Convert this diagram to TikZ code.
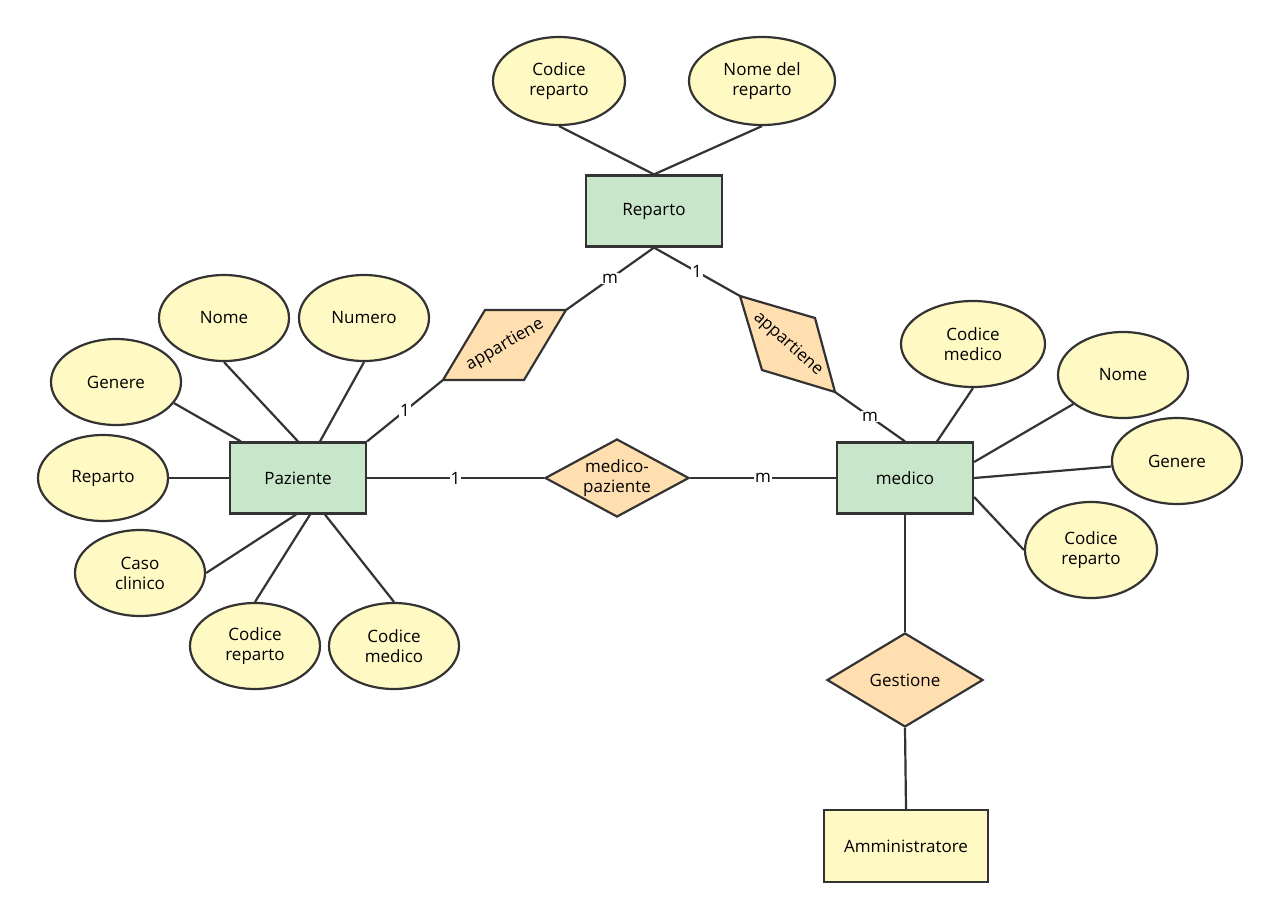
\documentclass[tikz,border=0pt]{standalone}
\usepackage{fontspec}
\setmainfont{Open Sans}
\usetikzlibrary{shapes.geometric,calc}
\definecolor{entgreen}{HTML}{C8E6C9}
\definecolor{attyellow}{HTML}{FFF9C4}
\definecolor{relorange}{HTML}{FFDFAF}
\definecolor{edge}{HTML}{333333}
\tikzset{
  ent/.style={draw=edge,line width=2.2pt,fill=entgreen,minimum width=136pt,minimum height=71pt,font=\fontsize{17}{20}\selectfont},
  att/.style={ellipse,draw=edge,line width=2.2pt,fill=attyellow,minimum width=130pt,minimum height=86pt,align=center,inner sep=0pt,font=\fontsize{17}{20}\selectfont},
  rel/.style={diamond,draw=edge,line width=2.2pt,fill=relorange,aspect=1.85,inner sep=0pt,align=center,font=\fontsize{17}{20}\selectfont},
  con/.style={draw=edge,line width=2.2pt},
  card/.style={fill=white,inner sep=1pt,font=\fontsize{17}{20}\selectfont}
}
\begin{document}
\begin{tikzpicture}[x=1pt,y=-1pt]
\useasboundingbox (0,0) rectangle (1279,919);
% entities
\node[ent] (rep) at (654,211) {Reparto};
\node[ent] (paz) at (298,478) {Paziente};
\node[ent] (med) at (905,478) {medico};
\node[ent,fill=attyellow,minimum width=164pt,minimum height=72pt] (adm) at (906,846) {Amministratore};

% attributes of Reparto
\node[att,minimum width=132pt,minimum height=88pt] (repcod) at (559,81) {Codice\\reparto};
\node[att,minimum width=146pt,minimum height=88pt] (repnom) at (762,81) {Nome del\\reparto};

% attributes of Paziente
\node[att] (paznom) at (224,318) {Nome};
\node[att] (paznum) at (364,318) {Numero};
\node[att] (pazgen) at (116,382) {Genere};
\node[att] (pazrep) at (103,478) {Reparto};
\node[att] (pazcas) at (140,573) {Caso\\clinico};
\node[att] (pazcr) at (255,646) {Codice\\reparto};
\node[att] (pazcm) at (394,646) {Codice\\medico};

% attributes of medico
\node[att,minimum width=144pt] (medcm) at (973,344) {Codice\\medico};
\node[att] (mednom) at (1123,375) {Nome};
\node[att] (medgen) at (1177,461) {Genere};
\node[att,minimum width=132pt,minimum height=96pt] (medcr) at (1091,550) {Codice\\reparto};

% relationships
\node[rel,minimum width=144pt,minimum height=78pt] (mp) at (617,478) {medico-\\paziente};
\node[rel,minimum width=156pt,minimum height=94pt] (ges) at (905,680) {Gestione};

\coordinate (al1) at (443,380);
\coordinate (al2) at (485,310);
\coordinate (al3) at (566,310);
\coordinate (al4) at (524,380);
\draw[con,fill=relorange] (al1)--(al2)--(al3)--(al4)--cycle;
\node[rotate=30,inner sep=0pt,font=\fontsize{17}{20}\selectfont] (ap1) at (505,345) {appartiene};

\coordinate (ar1) at (740,296);
\coordinate (ar2) at (815,318);
\coordinate (ar3) at (835,392);
\coordinate (ar4) at (762,370);
\draw[con,fill=relorange] (ar1)--(ar2)--(ar3)--(ar4)--cycle;
\node[rotate=-42,inner sep=0pt,font=\fontsize{17}{20}\selectfont] (ap2) at (788,344) {appartiene};

% connectors
\draw[con] (repcod.south) -- (rep.north);
\draw[con] (repnom.south) -- (rep.north);
\draw[con] (rep.south) -- node[card]{m} (al3);
\draw[con] (rep.south) -- node[card]{1} (ar1);
\draw[con] (al1) -- node[card]{1} ($(paz.north east)$);
\draw[con] (ar3) -- node[card]{m} (med.north);
\draw[con] (paz.east) -- node[card]{1} (mp.west);
\draw[con] (mp.east) -- node[card]{m} (med.west);

\draw[con] (paznom.south) -- (paz.north);
\draw[con] (paznum.south) -- ($(paz.north)+(22,0)$);
\draw[con] (pazgen.-20) -- ($(paz.north west)+(12,0)$);
\draw[con] (pazrep) -- (paz.west);
\draw[con] (pazcas.east) -- ($(paz.south)+(-2,0)$);
\draw[con] (pazcr.north) -- ($(paz.south)+(12,0)$);
\draw[con] (pazcm.north) -- ($(paz.south)+(27,0)$);

\draw[con] (medcm.south) -- ($(med.north)+(32,0)$);
\draw[con] (mednom) -- ($(med.east)+(0,-16)$);
\draw[con] (medgen) -- (med.east);
\draw[con] (medcr.west) -- ($(med.east)+(0,19)$);

\draw[con] (med.south) -- (ges.north);
\draw[con] (ges.south) -- (adm.north);
\end{tikzpicture}
\end{document}
